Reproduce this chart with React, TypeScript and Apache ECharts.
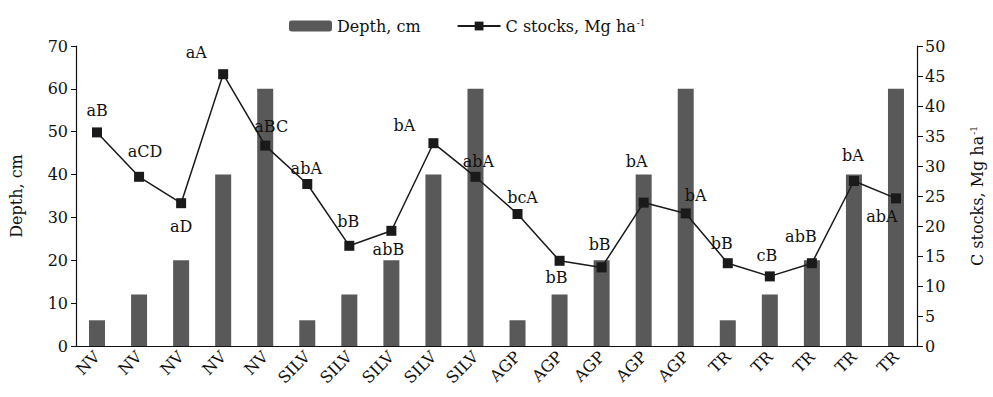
import React, { useEffect, useRef } from "react";
import * as echarts from "echarts";

const categories = [
  "NV", "NV", "NV", "NV", "NV",
  "SILV", "SILV", "SILV", "SILV", "SILV",
  "AGP", "AGP", "AGP", "AGP", "AGP",
  "TR", "TR", "TR", "TR", "TR",
];
const depth = [6, 12, 20, 40, 60, 6, 12, 20, 40, 60, 6, 12, 20, 40, 60, 6, 12, 20, 40, 60];
const cStocks = [
  35.6, 28.2, 23.8, 45.3, 33.4,
  27.0, 16.7, 19.2, 33.8, 28.2,
  22.0, 14.2, 13.1, 23.9, 22.1,
  13.8, 11.6, 13.8, 27.5, 24.6,
];
const letters = [
  "aB", "aCD", "aD", "aA", "aBC",
  "abA", "bB", "abB", "bA", "abA",
  "bcA", "bB", "bB", "bA", "bA",
  "bB", "cB", "abB", "bA", "abA",
];
const leftTicks = { min: 0, max: 70, interval: 10 };
const rightTicks = { min: 0, max: 50, interval: 5 };

// label placement (layout, relative to marker centre)
const labelOffsets: [number, number][] = [
  [0, -22], [6, -25], [0, 23], [-27, -22], [6, -19],
  [-1, -16], [-1, -24], [-3, 19], [-29, -18], [3, -15],
  [5, -17], [-3, 17], [-2, -23], [-7, -41], [10, -18],
  [-6, -20], [-3, -21], [-11, -27], [-1, -26], [-14, 18],
];

const FONT = "DejaVu Serif";

export default function App() {
  const ref = useRef<HTMLDivElement>(null);
  useEffect(() => {
    if (!ref.current) return;
    const chart = echarts.init(ref.current, null, { renderer: "svg" });
    const sup = { fontSize: 9, verticalAlign: "top" as const, fontFamily: FONT, color: "#111", padding: [0, 0, 6, 1] };
    chart.setOption({
      animation: false,
      textStyle: { fontFamily: FONT, color: "#111" },
      legend: {
        top: 13,
        left: 284,
        itemWidth: 43,
        itemHeight: 11,
        itemGap: 36,
        textStyle: {
          fontFamily: FONT,
          fontSize: 16,
          color: "#111",
          rich: { sup },
        },
        formatter: (name: string) =>
          name === "C stocks" ? "C stocks, Mg ha{sup|-1}" : "Depth, cm",
        data: [{ name: "Depth" }, { name: "C stocks" }],
      },
      grid: { left: 76, right: 75, top: 46, bottom: 51 },
      xAxis: {
        type: "category",
        data: categories,
        boundaryGap: true,
        axisLine: { lineStyle: { color: "#111", width: 1.2 } },
        axisTick: { alignWithLabel: false, length: 6, lineStyle: { color: "#111" } },
        axisLabel: {
          rotate: 45,
          interval: 0,
          margin: 8,
          fontFamily: FONT,
          fontSize: 16,
          color: "#111",
        },
      },
      yAxis: [
        {
          type: "value",
          ...leftTicks,
          name: "Depth, cm",
          nameLocation: "middle",
          nameGap: 52,
          nameTextStyle: { fontFamily: FONT, fontSize: 16, color: "#111" },
          axisLine: { show: true, lineStyle: { color: "#111", width: 1.2 } },
          axisTick: { show: true, length: 5, lineStyle: { color: "#111" } },
          axisLabel: { fontFamily: FONT, fontSize: 16, color: "#111", margin: 8 },
          splitLine: { show: false },
        },
        {
          type: "value",
          ...rightTicks,
          position: "right",
          name: "{a|C stocks, Mg ha}{sup|-1}",
          nameLocation: "middle",
          nameGap: 52,
          nameTextStyle: {
            fontFamily: FONT,
            fontSize: 16,
            color: "#111",
            rich: { a: { fontFamily: FONT, fontSize: 16, color: "#111" }, sup },
          },
          axisLine: { show: true, lineStyle: { color: "#111", width: 1.2 } },
          axisTick: { show: true, length: 6, lineStyle: { color: "#111" } },
          axisLabel: { fontFamily: FONT, fontSize: 16, color: "#111", margin: 8 },
          splitLine: { show: false },
        },
      ],
      series: [
        {
          name: "Depth",
          type: "bar",
          yAxisIndex: 0,
          data: depth,
          barWidth: 16,
          itemStyle: { color: "#595959" },
        },
        {
          name: "C stocks",
          type: "line",
          yAxisIndex: 1,
          data: cStocks.map((v, i) => ({ value: v, label: { offset: labelOffsets[i] } })),
          symbol: "rect",
          symbolSize: 10,
          lineStyle: { color: "#1a1a1a", width: 1.5 },
          itemStyle: { color: "#1a1a1a" },
          label: {
            show: true,
            position: "inside",
            align: "center",
            verticalAlign: "middle",
            fontFamily: FONT,
            fontSize: 16,
            color: "#111",
            textBorderWidth: 0,
            formatter: (p: any) => letters[p.dataIndex],
          },
          z: 3,
        },
      ],
    });
    return () => chart.dispose();
  }, []);
  return (
    <div
      ref={ref}
      style={{ position: "absolute", left: 0, top: 0, width: 993, height: 397 }}
    />
  );
}
